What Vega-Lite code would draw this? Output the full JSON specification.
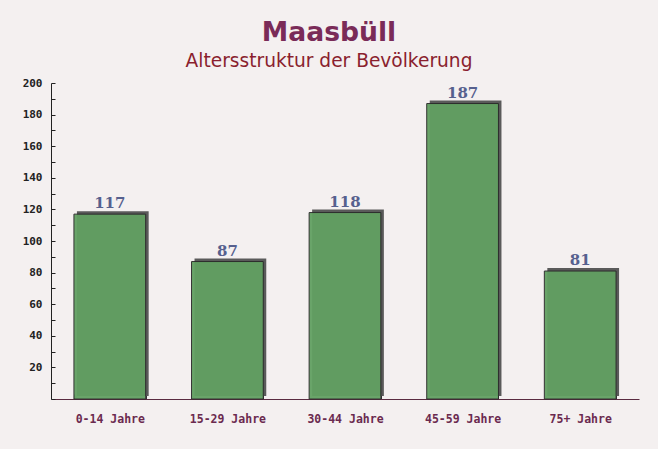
{
  "$schema": "https://vega.github.io/schema/vega-lite/v6.json",
  "width": 588,
  "height": 316,
  "autosize": {"type": "none"},
  "padding": {"left": 51, "top": 83, "right": 19, "bottom": 50},
  "background": "#f4f0f0",
  "title": {
    "text": "Maasbüll",
    "subtitle": "Altersstruktur der Bevölkerung",
    "anchor": "middle",
    "frame": "group",
    "dx": -16,
    "offset": 6,
    "font": "DejaVu Sans",
    "fontSize": 26.6,
    "fontWeight": "bold",
    "color": "#7a2b58",
    "subtitleFont": "DejaVu Sans",
    "subtitleFontSize": 18.6,
    "subtitleColor": "#8a1f2e",
    "subtitlePadding": 6
  },
  "data": {
    "values": [
      {"group": "0-14 Jahre", "count": 117},
      {"group": "15-29 Jahre", "count": 87},
      {"group": "30-44 Jahre", "count": 118},
      {"group": "45-59 Jahre", "count": 187},
      {"group": "75+ Jahre", "count": 81}
    ]
  },
  "encoding": {
    "x": {
      "field": "group",
      "type": "nominal",
      "sort": null,
      "scale": {"paddingInner": 0.39, "paddingOuter": 0.195},
      "axis": {
        "title": null,
        "labelAngle": 0,
        "labelFont": "DejaVu Sans Mono",
        "labelFontWeight": "bold",
        "labelFontSize": 11.5,
        "labelColor": "#6b2a4f",
        "labelPadding": 19,
        "tickBand": "extent",
        "tickSize": -5,
        "tickColor": "#333333",
        "domainColor": "#5a2a40",
        "grid": false
      }
    },
    "y": {
      "field": "count",
      "type": "quantitative",
      "scale": {"domain": [0, 200], "nice": false},
      "axis": {
        "title": null,
        "values": [0, 10, 20, 30, 40, 50, 60, 70, 80, 90, 100, 110, 120, 130, 140, 150, 160, 170, 180, 190, 200],
        "labelExpr": "datum.value % 20 == 0 && datum.value > 0 ? datum.label : ''",
        "labelFont": "DejaVu Sans Mono",
        "labelFontWeight": "bold",
        "labelFontSize": 11,
        "labelColor": "#222222",
        "labelPadding": 13,
        "tickSize": -4,
        "tickColor": "#222222",
        "domainColor": "#222222",
        "grid": false
      }
    }
  },
  "layer": [
    {
      "mark": {"type": "bar", "color": "#5a5a5a", "xOffset": 3, "x2Offset": 3, "yOffset": -3, "y2Offset": 0}
    },
    {
      "mark": {"type": "bar", "color": "#62a062", "opacity": 0.95, "stroke": "#2a2a2a", "strokeWidth": 1}
    },
    {
      "mark": {"type": "text", "font": "DejaVu Serif", "fontWeight": "bold", "fontSize": 15, "color": "#56608e", "baseline": "alphabetic", "dy": -6},
      "encoding": {"text": {"field": "count", "type": "quantitative"}}
    }
  ],
  "config": {"view": {"stroke": null}}
}
